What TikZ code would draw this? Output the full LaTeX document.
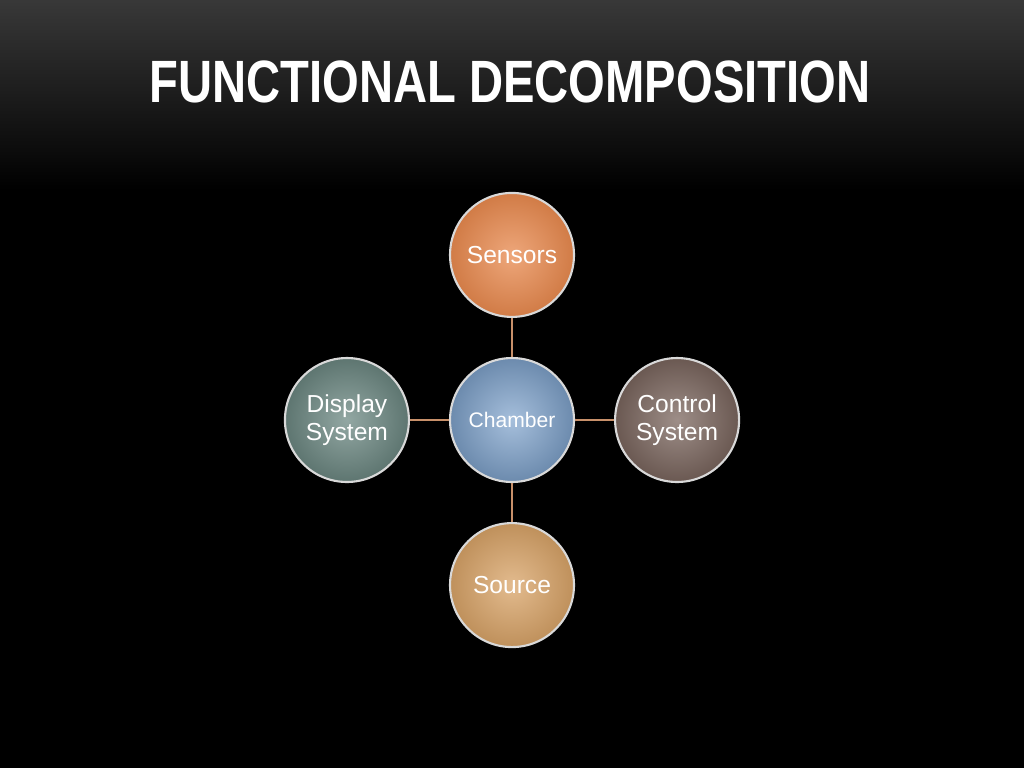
\documentclass[tikz,border=0pt]{standalone}
\usepackage{fontspec}
\setmainfont{Liberation Sans}
\usetikzlibrary{positioning}
\definecolor{sensorC}{HTML}{E8894E}
\definecolor{chamberC}{HTML}{7FA3CC}
\definecolor{displayC}{HTML}{6E8A84}
\definecolor{controlC}{HTML}{7D6860}
\definecolor{sourceC}{HTML}{D9A468}
\definecolor{linkC}{HTML}{C8906A}
\begin{document}
\begin{tikzpicture}[x=0.02cm,y=-0.02cm,
  part node/.style={circle,minimum size=2.48cm,inner sep=0pt,draw=white!85!black,line width=1.2pt,
    text=white,align=center,font=\fontsize{14}{16}\selectfont},
  link/.style={draw=linkC,line width=0.6pt}]
  \shade[top color=black!78,bottom color=black] (0,0) rectangle (1024,190);
  \fill[black] (0,190) rectangle (1024,768);
  \useasboundingbox (0,0) rectangle (1024,768);
  \node[text=white,font=\bfseries\fontsize{34}{36}\selectfont,xscale=0.79] (title) at (510,82) {FUNCTIONAL DECOMPOSITION};
  \node[part node,inner color=chamberC!70!white,outer color=chamberC!85!black,font=\fontsize{12}{14}\selectfont] (chamber) at (512,420) {Chamber};
  \node[part node,inner color=sensorC!75!white,outer color=sensorC!90!black,above=0.78cm of chamber] (sensors) {Sensors};
  \node[part node,inner color=sourceC!75!white,outer color=sourceC!88!black,below=0.78cm of chamber] (source) {Source};
  \node[part node,inner color=displayC!75!white,outer color=displayC!85!black,left=0.78cm of chamber] (display) {Display\\System};
  \node[part node,inner color=controlC!75!white,outer color=controlC!85!black,right=0.78cm of chamber] (control) {Control\\System};
  \path[link] (chamber) -- (sensors);
  \path[link] (chamber) -- (source);
  \path[link] (chamber) -- (display);
  \path[link] (chamber) -- (control);
\end{tikzpicture}
\end{document}
